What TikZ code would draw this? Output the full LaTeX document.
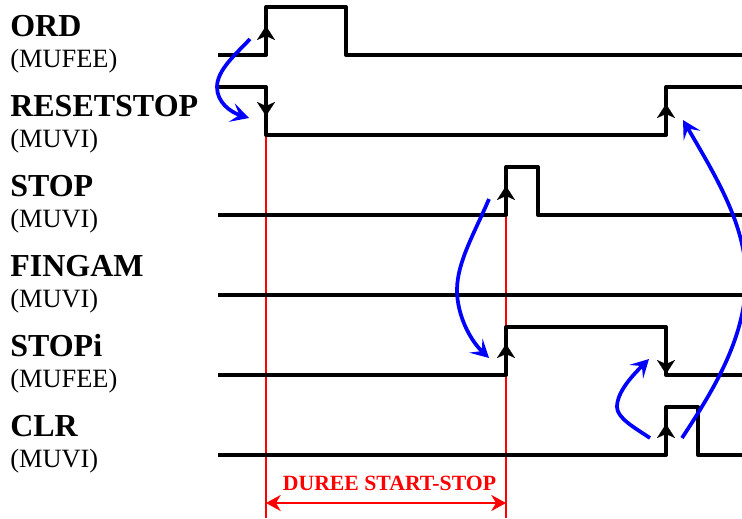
\documentclass[tikz,border=0pt]{standalone}
\usepackage{fontspec}
\setmainfont{Liberation Serif}
\usetikzlibrary{arrows.meta}
\definecolor{sigblue}{RGB}{0,0,255}
\definecolor{sigred}{RGB}{255,0,0}
\tikzset{
  x=0.75pt,y=-0.75pt,
  signal/.style={draw=black,line width=3pt,line join=round},
  edgetip/.style={draw=black,line width=0.1pt,-{Stealth[length=10.5pt,width=13.5pt,inset=3pt,fill=black]}},
  cause/.style={draw=sigblue,line width=2.8pt,-{Stealth[length=13.5pt,width=14.5pt,inset=6pt,sep=0pt,fill=sigblue]}},
  guide/.style={draw=sigred,line width=1.5pt},
  spanline/.style={draw=sigred,line width=1.8pt,{Stealth[length=11pt,width=12pt,inset=3.5pt]}-{Stealth[length=11pt,width=12pt,inset=3.5pt]}},
  signame/.style={anchor=base west,inner sep=0pt,font=\fontsize{24pt}{26pt}\selectfont\bfseries},
  sigunit/.style={anchor=base west,inner sep=0pt,font=\fontsize{19.8pt}{22pt}\selectfont},
  spanlabel/.style={anchor=base,inner sep=0pt,text=sigred,font=\fontsize{16.3pt}{18pt}\selectfont\bfseries}
}
\begin{document}
\begin{tikzpicture}
\useasboundingbox (0,0) rectangle (742,518);
\clip (0,0) rectangle (742,518);
% guides
\draw[guide] (266,135) -- (266,518);
\draw[guide] (506,215) -- (506,518);
% signals
\draw[signal] (218,55) -- (266,55) -- (266,7) -- (346,7) -- (346,55) -- (742,55);
\draw[signal] (218,87) -- (266,87) -- (266,135) -- (666,135) -- (666,87) -- (742,87);
\draw[signal] (218,215) -- (506,215) -- (506,167) -- (538,167) -- (538,215) -- (742,215);
\draw[signal] (218,295) -- (742,295);
\draw[signal] (218,375) -- (506,375) -- (506,327) -- (666,327) -- (666,375) -- (742,375);
\draw[signal] (218,455) -- (666,455) -- (666,407) -- (698,407) -- (698,455) -- (742,455);
% edge tips
\path[edgetip] (266,40) -- (266,26);
\path[edgetip] (266,101) -- (266,116);
\path[edgetip] (506,200) -- (506,186);
\path[edgetip] (506,360) -- (506,344);
\path[edgetip] (666,120) -- (666,104);
\path[edgetip] (666,358) -- (666,374);
\path[edgetip] (666,440) -- (666,424);
% causes
\draw[cause] (250,39) .. controls (236,54) and (217,70) .. (217,87) .. controls (217,102) and (230,112) .. (249,118);
\draw[cause] (489,199) .. controls (475,232) and (457,262) .. (457,290) .. controls (457,315) and (470,340) .. (489,358);
\draw[cause] (650,438) .. controls (635,428) and (617,418) .. (617,407) .. controls (617,392) and (632,376) .. (649,359);
\draw[cause] (682,438) .. controls (710,395) and (746,340) .. (746,278) .. controls (746,225) and (715,175) .. (683,120);
% labels
\node[signame] (ord) at (10,36.7) {ORD};
\node[sigunit] (ordu) at (10,67.2) {(MUFEE)};
\node[signame] (rst) at (10,116.7) {RESETSTOP};
\node[sigunit] (rstu) at (10,147.2) {(MUVI)};
\node[signame] (stp) at (10,196.7) {STOP};
\node[sigunit] (stpu) at (10,227.2) {(MUVI)};
\node[signame] (fin) at (10,276.7) {FINGAM};
\node[sigunit] (finu) at (10,307.2) {(MUVI)};
\node[signame] (sti) at (10,356.7) {STOPi};
\node[sigunit] (stiu) at (10,387.2) {(MUFEE)};
\node[signame] (clr) at (10,436.7) {CLR};
\node[sigunit] (clru) at (10,467.2) {(MUVI)};
\node[spanlabel] (dur) at (389.5,490) {DUREE START-STOP};
\coordinate (spana) at (266,503);
\coordinate (spanb) at (506,503);
\draw[spanline] (spana) -- (spanb);
\end{tikzpicture}
\end{document}
